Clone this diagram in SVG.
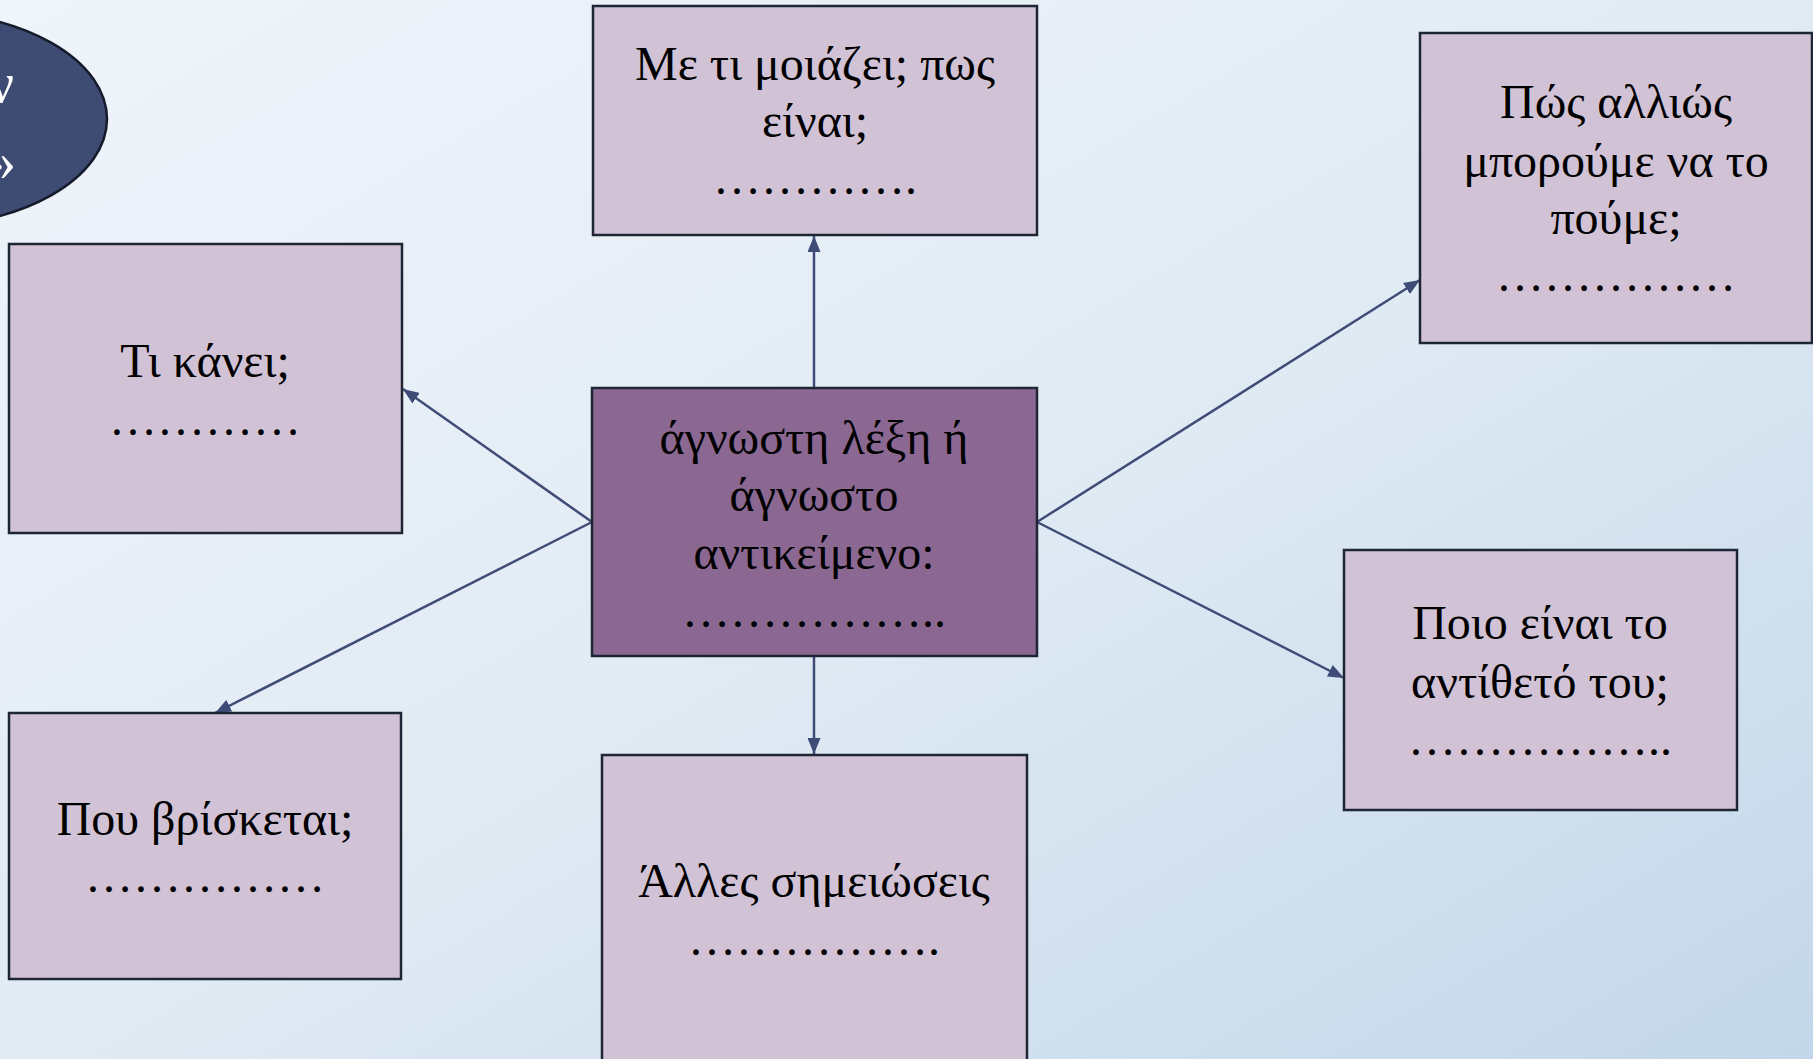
<svg xmlns="http://www.w3.org/2000/svg" width="1813" height="1059" viewBox="0 0 1813 1059">
<defs>
<linearGradient id="bg" x1="0" y1="0" x2="1" y2="1">
<stop offset="0" stop-color="#F0F4FB"/>
<stop offset="0.5" stop-color="#E1EBF4"/>
<stop offset="1" stop-color="#C3D7EA"/>
</linearGradient>
<marker id="arr" viewBox="0 0 16 13" refX="16" refY="6.5" markerWidth="16" markerHeight="13" markerUnits="userSpaceOnUse" orient="auto">
<path d="M0,0 L16,6.5 L0,13 Z" fill="#3F4C78"/>
</marker>
<style>
.box{fill:#D1C3D5;stroke:#1E2535;stroke-width:2.5}
.main{fill:#8B6892;stroke:#1E2535;stroke-width:2.5}
.t{font-family:"Liberation Serif","Times New Roman",serif;font-size:48px;fill:#000;text-anchor:middle}
.w{font-family:"Liberation Serif","Times New Roman",serif;font-size:56px;fill:#fff;text-anchor:end}
.c{stroke:#3F4C78;stroke-width:2.5;fill:none;marker-end:url(#arr)}
</style>
</defs>
<rect width="1813" height="1059" fill="url(#bg)"/>
<g id="title">
<ellipse cx="-84" cy="119" rx="191" ry="108" fill="#3E4B73" stroke="#151B2A" stroke-width="2.5"/>
<text class="w" x="14" y="102">ν</text>
<text class="w" x="16" y="180">»</text>
</g>
<g id="connectors">
<line class="c" x1="814" y1="388" x2="814" y2="236"/>
<line class="c" x1="592" y1="522" x2="403" y2="389"/>
<line class="c" x1="592" y1="522" x2="215" y2="713"/>
<line class="c" x1="814" y1="656" x2="814" y2="754"/>
<line class="c" x1="1037" y1="522" x2="1420" y2="280"/>
<line class="c" x1="1037" y1="522" x2="1344" y2="678"/>
</g>
<g id="node-top">
<rect class="box" x="593" y="6" width="444" height="229"/>
<text class="t" x="815" y="80">Με τι μοιάζει; πως</text>
<text class="t" x="815" y="137">είναι;</text>
<text class="t" x="815" y="194">………….</text>
</g>
<g id="node-left">
<rect class="box" x="9" y="244" width="393" height="289"/>
<text class="t" x="205" y="377">Τι κάνει;</text>
<text class="t" x="205" y="435">…………</text>
</g>
<g id="node-center">
<rect class="main" x="592" y="388" width="445" height="268"/>
<text class="t" x="814" y="454">άγνωστη λέξη ή</text>
<text class="t" x="814" y="511">άγνωστο</text>
<text class="t" x="814" y="569">αντικείμενο:</text>
<text class="t" x="814" y="627">……………..</text>
</g>
<g id="node-topright">
<rect class="box" x="1420" y="33" width="392" height="310"/>
<text class="t" x="1616" y="118">Πώς αλλιώς</text>
<text class="t" x="1616" y="177">μπορούμε να το</text>
<text class="t" x="1616" y="234">πούμε;</text>
<text class="t" x="1616" y="291">……………</text>
</g>
<g id="node-right">
<rect class="box" x="1344" y="550" width="393" height="260"/>
<text class="t" x="1540" y="639">Ποιο είναι το</text>
<text class="t" x="1540" y="698">αντίθετό του;</text>
<text class="t" x="1540" y="755">……………..</text>
</g>
<g id="node-bottomleft">
<rect class="box" x="9" y="713" width="392" height="266"/>
<text class="t" x="205" y="835">Που βρίσκεται;</text>
<text class="t" x="205" y="892">……………</text>
</g>
<g id="node-bottom">
<rect class="box" x="602" y="755" width="425" height="320"/>
<text class="t" x="814" y="897">Άλλες σημειώσεις</text>
<text class="t" x="814" y="955">…………….</text>
</g>
</svg>
